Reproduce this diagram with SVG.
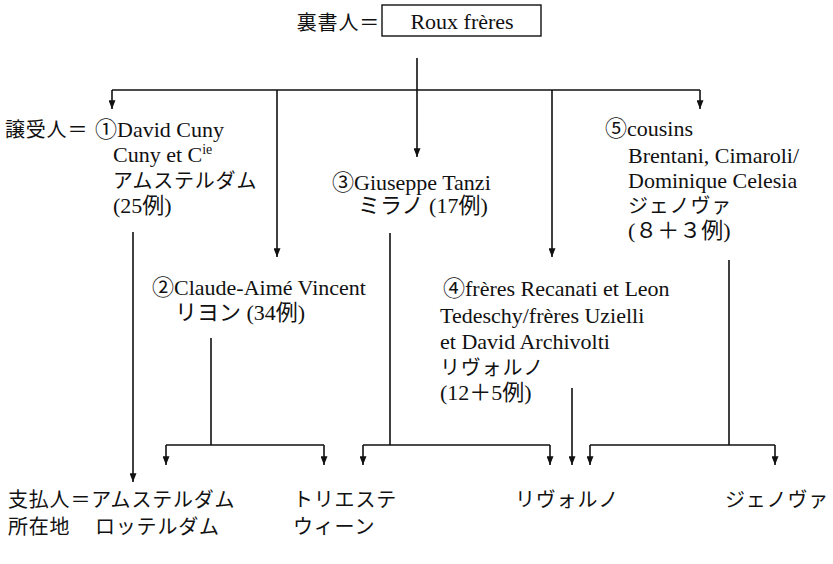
<svg xmlns="http://www.w3.org/2000/svg" width="833" height="564" viewBox="0 0 833 564">
<style>
.t{font-family:"Liberation Serif","Noto Sans CJK JP",serif;font-size:22px;fill:#111}
.j{font-family:"Noto Sans CJK JP","Liberation Serif",sans-serif;font-size:20px;fill:#111;letter-spacing:0.8px}
.ln{fill:none;stroke:#111;stroke-width:1.6}
.ar{fill:none;stroke:#111;stroke-width:1.6;marker-end:url(#ah)}
</style>
<defs>
<marker id="ah" viewBox="0 0 10 8" refX="10" refY="4" markerWidth="9" markerHeight="7" markerUnits="userSpaceOnUse" orient="auto">
<path d="M0,0 L10,4 L0,8 z" fill="#111"/>
</marker>
</defs>
<rect width="833" height="564" fill="#fff"/>

<g id="drawer">
<text class="j" x="380" y="30" text-anchor="end" letter-spacing="0">裏書人＝</text>
<rect x="382" y="5" width="159" height="31" fill="none" stroke="#111" stroke-width="1.4"/>
<text class="t" x="462" y="29" text-anchor="middle">Roux frères</text>
</g>

<g id="node1">
<text class="j" x="5" y="137" letter-spacing="2">譲受人＝</text>
<text class="t" x="95" y="137">①David Cuny</text>
<text class="t" x="113" y="162">Cuny et C<tspan font-size="14" dy="-8">ie</tspan></text>
<text class="j" x="113" y="188">アムステルダム</text>
<text class="t" x="113" y="213">(25例)</text>
</g>

<g id="node2">
<text class="t" x="152" y="295">②Claude-Aimé Vincent</text>
<text class="t" x="175" y="320">リヨン (34例)</text>
</g>

<g id="node3">
<text class="t" x="332" y="190">③Giuseppe Tanzi</text>
<text class="t" x="358" y="213">ミラノ (17例)</text>
</g>

<g id="node4">
<text class="t" x="443" y="296">④frères Recanati et Leon</text>
<text class="t" x="440" y="323">Tedeschy/frères Uzielli</text>
<text class="t" x="440" y="349">et David Archivolti</text>
<text class="j" x="440" y="375">リヴォルノ</text>
<text class="t" x="440" y="400">(12＋5例)</text>
</g>

<g id="node5">
<text class="t" x="605" y="136">⑤cousins</text>
<text class="t" x="628" y="163">Brentani, Cimaroli/</text>
<text class="t" x="628" y="188">Dominique Celesia</text>
<text class="j" x="628" y="213">ジェノヴァ</text>
<text class="t" x="628" y="238">(８＋３例)</text>
</g>

<g id="payees">
<text class="j" x="8" y="507">支払人＝アムステルダム</text>
<text class="j" x="8" y="534">所在地</text>
<text class="j" x="95" y="534">ロッテルダム</text>
<text class="j" x="293" y="507">トリエステ</text>
<text class="j" x="293" y="534">ウィーン</text>
<text class="j" x="515" y="507">リヴォルノ</text>
<text class="j" x="725" y="507">ジェノヴァ</text>
</g>

<g id="connectors">
<path class="ln" d="M417 58 V90 M112 90 H700"/>
<path class="ar" d="M112 90 V109"/>
<path class="ar" d="M277 90 V257"/>
<path class="ar" d="M417 90 V157"/>
<path class="ar" d="M552 90 V257"/>
<path class="ar" d="M700 90 V109"/>
<path class="ar" d="M133 232 V482"/>
<path class="ln" d="M211 338 V445 M166 445 H324"/>
<path class="ar" d="M166 445 V465"/>
<path class="ar" d="M324 445 V465"/>
<path class="ln" d="M390 233 V445 M363 445 H550"/>
<path class="ar" d="M363 445 V465"/>
<path class="ar" d="M550 445 V465"/>
<path class="ar" d="M572 388 V465"/>
<path class="ln" d="M729 260 V445 M590 445 H775"/>
<path class="ar" d="M590 445 V465"/>
<path class="ar" d="M775 445 V465"/>
</g>
</svg>
